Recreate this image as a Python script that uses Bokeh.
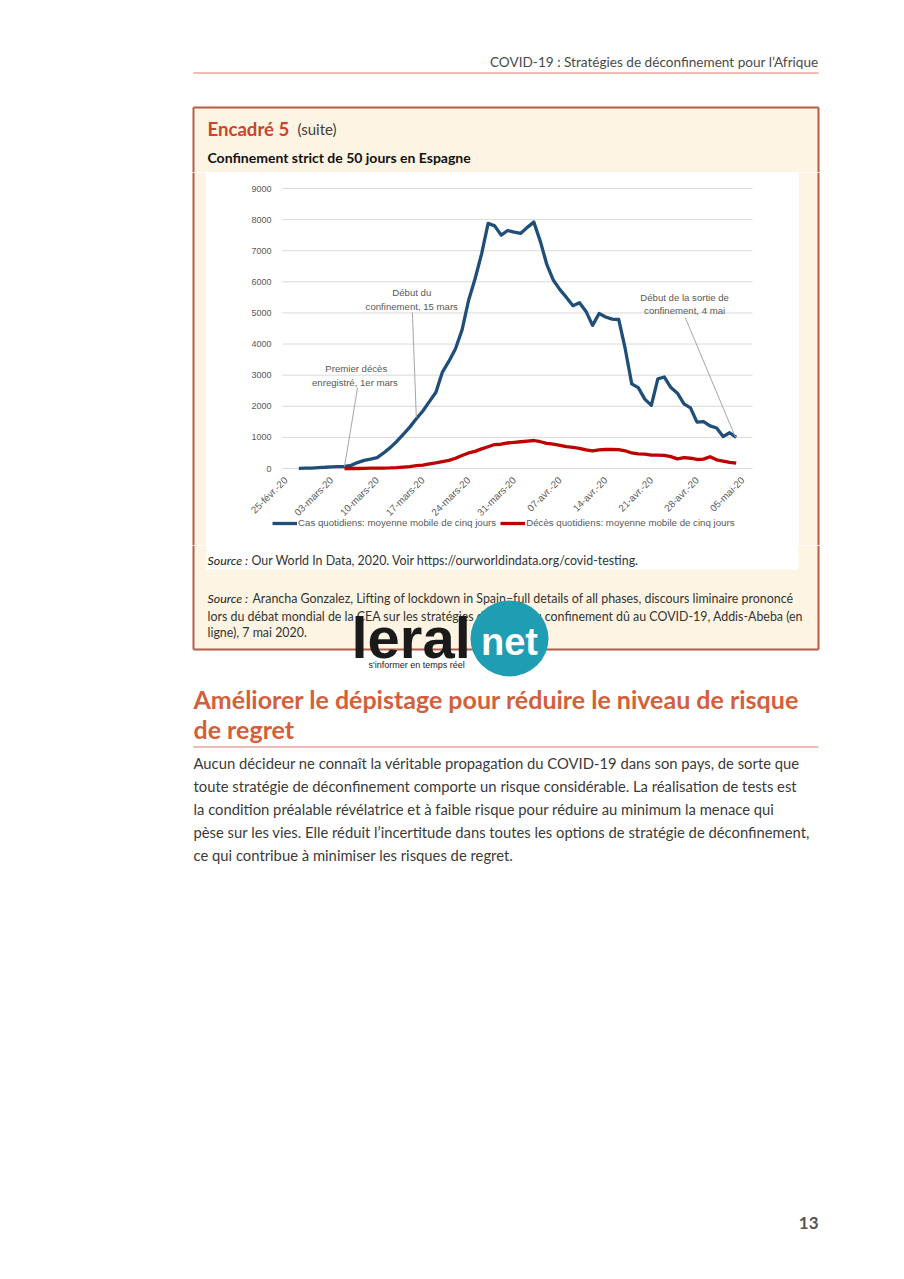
import math
from bokeh.plotting import figure
from bokeh.layouts import column, row
from bokeh.models import Range1d, FixedTicker, Legend, LegendItem
from bokeh.core.properties import value
from bokeh.embed import file_html
from bokeh.resources import INLINE

# ---------------- data ----------------
tick_days = [0, 7, 14, 21, 28, 35, 42, 49, 56, 63, 70]
tick_labels = ["25-févr.-20", "03-mars-20", "10-mars-20", "17-mars-20", "24-mars-20",
               "31-mars-20", "07-avr.-20", "14-avr.-20", "21-avr.-20", "28-avr.-20", "05-mai-20"]
y_ticks = [0, 1000, 2000, 3000, 4000, 5000, 6000, 7000, 8000, 9000]

# daily cases, 5-day moving average, from 27 Feb (day 2) to 4 May (day 69)
cases_start = 2
cases = [5, 10, 15, 30, 40, 55, 60, 65, 100, 190, 260, 300, 350, 500, 670, 870, 1100, 1330,
         1600, 1850, 2150, 2450, 3100, 3450, 3850, 4450, 5400, 6100, 6900, 7880, 7800, 7500,
         7650, 7600, 7560, 7750, 7920, 7300, 6550, 6050, 5750, 5500, 5230, 5330, 5050, 4600,
         4980, 4870, 4800, 4790, 3850, 2720, 2600, 2230, 2030, 2880, 2940, 2600, 2420, 2080,
         1950, 1490, 1510, 1370, 1300, 1030, 1150, 1000]

# daily deaths, 5-day moving average, from 5 Mar (day 9) to 4 May (day 69)
deaths_start = 9
deaths = [0, 0, 0, 5, 10, 10, 15, 20, 30, 45, 60, 90, 110, 150, 180, 220, 260, 330, 420, 500,
          550, 630, 700, 770, 780, 820, 840, 860, 880, 900, 860, 810, 780, 740, 700, 680, 650,
          600, 570, 600, 610, 610, 605, 570, 500, 470, 460, 430, 430, 420, 380, 310, 350, 330,
          290, 300, 380, 280, 240, 200, 170]

series_names = ["Cas quotidiens: moyenne mobile de cinq jours",
                "Décès quotidiens: moyenne mobile de cinq jours"]

PAGE_FONT = "Lato"
CHART_FONT = "Liberation Sans"
CREAM = "#fdf4e3"
BORDER = "#b65c49"
ORANGE = "#d4603b"


def page_fig(w, h, x0, x1, y0, y1):
    f = figure(width=w, height=h, x_range=Range1d(x0, x1), y_range=Range1d(y1, y0),
               output_backend="svg", toolbar_location=None, min_border=0,
               x_axis_location=None, y_axis_location=None, outline_line_color=None)
    f.grid.visible = False
    f.background_fill_color = "white"
    f.border_fill_color = "white"
    return f


def txt(f, x, y, s, size, color, font=PAGE_FONT, style="normal", align="left"):
    f.text(x=[x], y=[y], text=[s], text_font=value(font), text_font_size=f"{size}px",
           text_color=color, text_font_style=style, text_align=align,
           text_baseline="alphabetic")


# ---------------- top part of page ----------------
top = page_fig(896, 172, 0, 896, 0, 172)
txt(top, 818, 61, "COVID-19 : Stratégies de déconfinement pour l’Afrique", 13.6, "#4a4a4a", align="right")
top.segment(x0=[193], y0=[72.5], x1=[818], y1=[72.5], line_color="#df7a66", line_width=1)
top.quad(left=[193], right=[818], top=[107], bottom=[172], fill_color=CREAM, line_color=None)
top.multi_line(xs=[[193, 818], [193, 193], [818, 818]], ys=[[107, 107], [107, 172], [107, 172]],
               line_color=BORDER, line_width=2)
top.quad(left=[206], right=[798], top=[172], bottom=[173], fill_color="white", line_color=None)
txt(top, 207, 128.5, "Encadré 5", 18.6, "#c8462c", style="bold")
txt(top, 297, 128.5, "(suite)", 15, "#404040")
txt(top, 207, 157, "Confinement strict de 50 jours en Espagne", 14, "#111111", style="bold")

# ---------------- side strips ----------------
left = page_fig(206, 373, 0, 206, 172, 545)
left.quad(left=[193], right=[206], top=[172], bottom=[545], fill_color=CREAM, line_color=None)
left.segment(x0=[193], y0=[172], x1=[193], y1=[545], line_color=BORDER, line_width=2)

right = page_fig(98, 373, 798, 896, 172, 545)
right.quad(left=[798], right=[818], top=[172], bottom=[545], fill_color=CREAM, line_color=None)
right.segment(x0=[818], y0=[172], x1=[818], y1=[545], line_color=BORDER, line_width=2)

# ---------------- chart ----------------
# the frame fills the whole chart canvas; axes are pinned inside it
X_LO, X_HI = -0.5, 71.5          # plotted date span (days after 25 Feb)
PX_DAY = 470 / (X_HI - X_LO)
PX_UNIT = 280 / 9000
p = figure(width=592, height=373,
           x_range=Range1d(X_LO - 76 / PX_DAY, X_HI + 46 / PX_DAY),
           y_range=Range1d(-77 / PX_UNIT, 9000 + 16 / PX_UNIT),
           output_backend="svg", toolbar_location=None, min_border=0,
           outline_line_color=None)
p.background_fill_color = "white"
p.border_fill_color = "white"
p.grid.visible = False
p.segment(x0=[X_LO] * len(y_ticks), y0=y_ticks, x1=[X_HI] * len(y_ticks), y1=y_ticks,
          line_color="#d9d9d9", line_width=1)
p.yaxis.ticker = FixedTicker(ticks=y_ticks)
p.xaxis.ticker = FixedTicker(ticks=tick_days)
p.xaxis.major_label_overrides = {d: l for d, l in zip(tick_days, tick_labels)}
p.xaxis.major_label_orientation = math.pi / 4
p.xaxis.fixed_location = 0
p.yaxis.fixed_location = X_LO
for ax in (p.xaxis, p.yaxis):
    ax.axis_line_color = None
    ax.major_tick_line_color = None
    ax.minor_tick_line_color = None
    ax.major_tick_out = 0
    ax.major_tick_in = 0
    ax.minor_tick_out = 0
    ax.minor_tick_in = 0
    ax.major_label_text_font = CHART_FONT
    ax.major_label_text_color = "#595959"
p.yaxis.major_label_text_font_size = "9px"
p.xaxis.major_label_text_font_size = "9.8px"
p.yaxis.major_label_standoff = 11
p.xaxis.major_label_standoff = 10

r_cases = p.line(list(range(cases_start, cases_start + len(cases))), cases,
                 line_color="#1f4e79", line_width=3.3, line_join="round")
r_deaths = p.line(list(range(deaths_start, deaths_start + len(deaths))), deaths,
                  line_color="#c00000", line_width=3.3, line_join="round")

# annotations
p.segment(x0=[19.4, 11.0, 61.2], y0=[5015, 2600, 4850], x1=[20.0, 9.0, 68.9], y1=[1640, 60, 1000],
          line_color="#a6a6a6", line_width=1)
p.text(x=[19.3, 19.3, 10.8, 10.8, 61.1, 61.1],
       y=[5670, 5220, 3200, 2750, 5500, 5080],
       text=["Début du", "confinement, 15 mars", "Premier décès", "enregistré,  1er mars",
             "Début de la sortie de", "confinement, 4 mai"],
       text_font=value(CHART_FONT), text_font_size="9.6px", text_color="#595959",
       text_align="center", text_baseline="alphabetic")

legend = Legend(items=[LegendItem(label=series_names[0], renderers=[r_cases]),
                       LegendItem(label=series_names[1], renderers=[r_deaths])],
                orientation="horizontal", location=(66, 17))
legend.label_text_font = CHART_FONT
legend.label_text_font_size = "9.7px"
legend.label_text_color = "#595959"
legend.glyph_width = 25
legend.glyph_height = 10
legend.label_height = 10
legend.label_standoff = 1
legend.spacing = 4
legend.padding = 0
legend.margin = 0
legend.border_line_color = None
legend.background_fill_alpha = 0
p.add_layout(legend)

# ---------------- bottom part of page ----------------
bot = page_fig(896, 726, 0, 896, 545, 1271)
bot.quad(left=[193], right=[818], top=[545], bottom=[649], fill_color=CREAM, line_color=None)
bot.quad(left=[206], right=[798], top=[545], bottom=[569], fill_color="white", line_color=None)
bot.multi_line(xs=[[193, 193], [818, 818], [193, 818]], ys=[[545, 649], [545, 649], [649, 649]],
               line_color=BORDER, line_width=2)

SRC = 12.4
txt(bot, 207, 560, "Source :", SRC, "#222222", style="italic")
txt(bot, 251, 560, "Our World In Data, 2020. Voir https://ourworldindata.org/covid-testing.", SRC, "#333333")
txt(bot, 207, 598, "Source :", SRC, "#222222", style="italic")
txt(bot, 252, 598, "Arancha Gonzalez, Lifting of lockdown in Spain–full details of all phases, discours liminaire prononcé", SRC, "#333333")
txt(bot, 207, 616, "lors du débat mondial de la CEA sur les stratégies de sortie du confinement dû au COVID-19, Addis-Abeba (en", SRC, "#333333")
txt(bot, 207, 632, "ligne), 7 mai 2020.", SRC, "#333333")

# watermark logo
txt(bot, 351, 637, "leral", 58, "#1a1a1a", font="Liberation Sans", style="bold")
bot.ellipse(x=[509], y=[638], width=[78], height=[76], fill_color="#1e9db3", line_color=None)
txt(bot, 509, 641, "net", 38, "#ffffff", font="Liberation Sans", style="bold", align="center")
txt(bot, 368, 664, "s'informer en temps réel", 9, "#222222", font="Liberation Sans")

# section heading
txt(bot, 193, 698, "Améliorer le dépistage pour réduire le niveau de risque", 25, ORANGE, style="bold")
txt(bot, 193, 728, "de regret", 25, ORANGE, style="bold")
bot.segment(x0=[193], y0=[746.5], x1=[818], y1=[746.5], line_color="#df7a66", line_width=1)

para = ["Aucun décideur ne connaît la véritable propagation du COVID-19 dans son pays, de sorte que",
        "toute stratégie de déconfinement comporte un risque considérable. La réalisation de tests est",
        "la condition préalable révélatrice et à faible risque pour réduire au minimum la menace qui",
        "pèse sur les vies. Elle réduit l’incertitude dans toutes les options de stratégie de déconfinement,",
        "ce qui contribue à minimiser les risques de regret."]
for i, line in enumerate(para):
    txt(bot, 193, 762 + 23 * i, line, 14.8, "#3a3a3a")

txt(bot, 818, 1222, "13", 17, "#555555", style="bold", align="right")

layout = column(top, row(left, p, right), bot)
open("out.html", "w").write(file_html(layout, INLINE))
